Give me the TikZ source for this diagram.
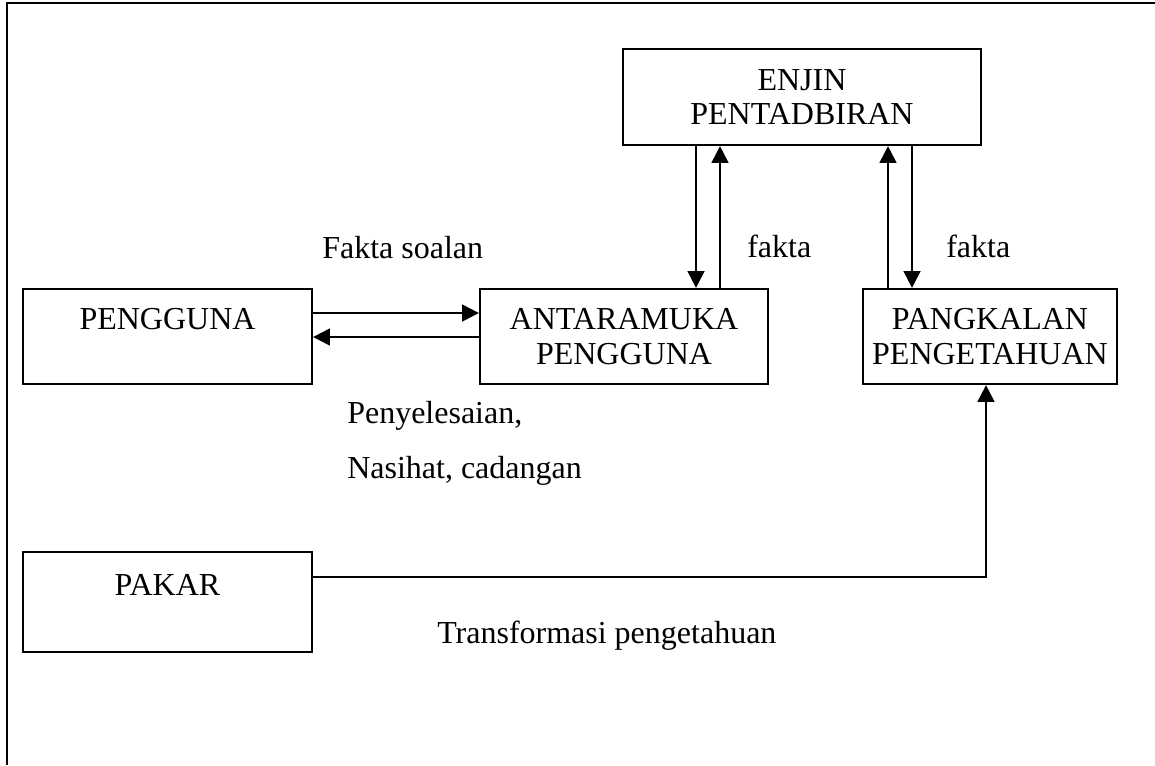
\documentclass[tikz,border=0pt]{standalone}
\usepackage{fontspec}
\setmainfont{Liberation Serif}
\usetikzlibrary{arrows.meta}
\begin{document}
\begin{tikzpicture}[x=0.75pt,y=-0.75pt,
  txt/.style={font=\fontsize{24}{26}\selectfont, inner sep=0pt},
  box/.style={draw, line width=1.7pt, rectangle, inner sep=0pt, align=center,
    font=\fontsize{24}{26}\selectfont},
  arr/.style={line width=1.7pt, -{Triangle[length=12.5pt,width=12.5pt]}}]
  \useasboundingbox (0,0) rectangle (1155,765);

  % page frame
  \draw[line width=1.8pt] (1155,3) -- (7,3) -- (7,765);

  % blocks
  \node[box, minimum width=358*0.75pt, minimum height=96*0.75pt] (engine) at (802,97) {ENJIN\\PENTADBIRAN};
  \node[box, minimum width=289*0.75pt, minimum height=95*0.75pt] (user) at (167.5,336.5) {PENGGUNA\\~};
  \node[box, minimum width=288*0.75pt, minimum height=95*0.75pt] (ui) at (624,336.5) {ANTARAMUKA\\PENGGUNA};
  \node[box, minimum width=254*0.75pt, minimum height=95*0.75pt] (kb) at (990,336.5) {PANGKALAN\\PENGETAHUAN};
  \node[box, minimum width=289*0.75pt, minimum height=100*0.75pt] (expert) at (167.5,602) {PAKAR\\~};

  % reference levels for the connectors
  \coordinate (yq) at (0,313);
  \coordinate (ya) at (0,337);
  \coordinate (yt) at (0,577);
  \coordinate (x1) at (696,0);
  \coordinate (x2) at (720,0);
  \coordinate (x3) at (888,0);
  \coordinate (x4) at (912,0);
  \coordinate (x5) at (986,0);

  % connectors
  \draw[arr] (user.east |- yq) -- (ui.west |- yq);
  \draw[arr] (ui.west |- ya) -- (user.east |- ya);
  \draw[arr] (engine.south -| x1) -- (ui.north -| x1);
  \draw[arr] (ui.north -| x2) -- (engine.south -| x2);
  \draw[arr] (kb.north -| x3) -- (engine.south -| x3);
  \draw[arr] (engine.south -| x4) -- (kb.north -| x4);
  \draw[arr] (expert.east |- yt) -| (kb.south -| x5);

  % labels
  \node[txt, anchor=base west] (lq) at (322,258) {Fakta soalan};
  \node[txt, anchor=base west] (lf1) at (747,257) {fakta};
  \node[txt, anchor=base west] (lf2) at (946,257) {fakta};
  \node[txt, anchor=base west] (ls1) at (347,423) {Penyelesaian,};
  \node[txt, anchor=base west] (ls2) at (347,478) {Nasihat, cadangan};
  \node[txt, anchor=base west] (lt) at (437,643) {Transformasi pengetahuan};
\end{tikzpicture}
\end{document}
